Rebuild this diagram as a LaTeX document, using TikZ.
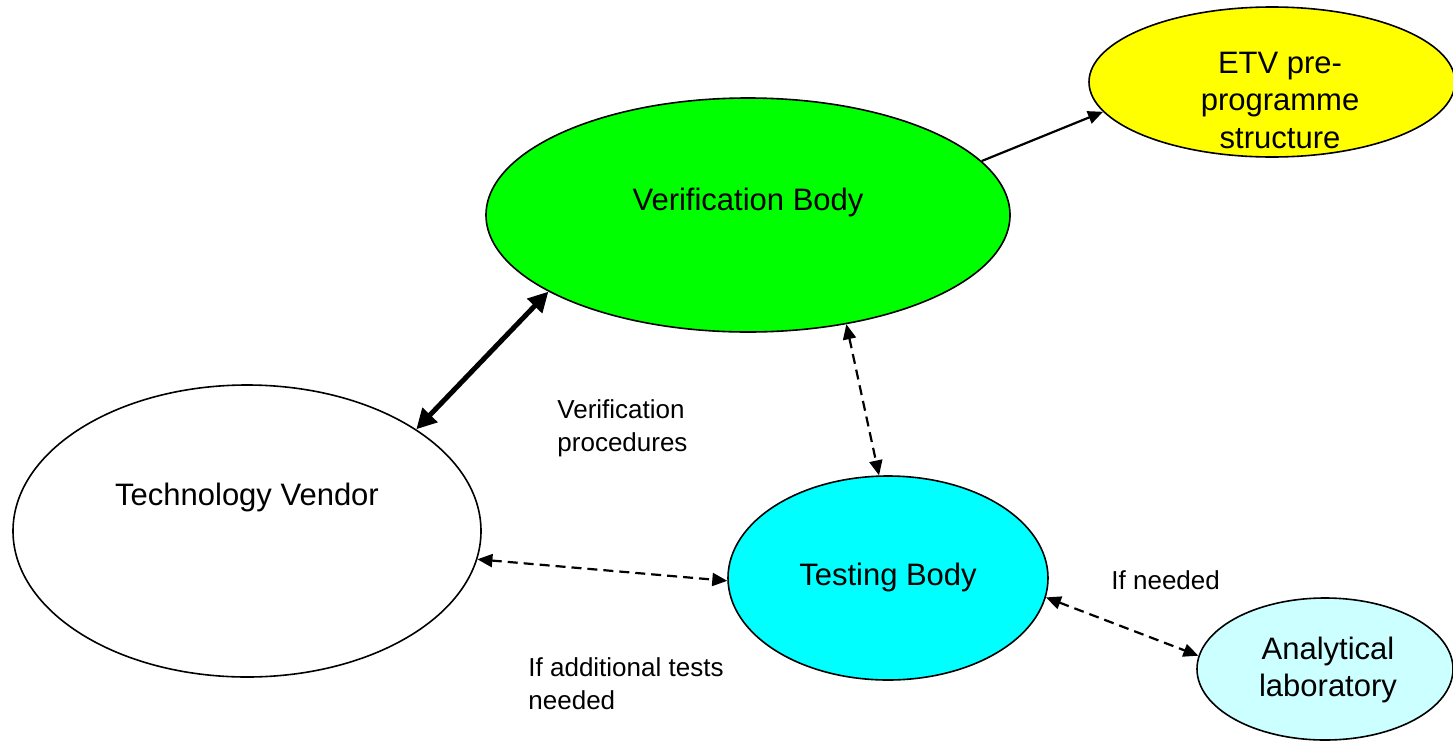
\documentclass[tikz,border=0pt]{standalone}
\usepackage{fontspec}
\setmainfont{Liberation Sans}
\usetikzlibrary{positioning, shapes.geometric, arrows.meta}
\definecolor{vbgreen}{RGB}{0,255,0}
\definecolor{etvyellow}{RGB}{255,255,0}
\definecolor{tbcyan}{RGB}{0,255,255}
\definecolor{labcyan}{RGB}{204,255,255}

\begin{document}
\begin{tikzpicture}[x=1pt, y=-1pt, >={Triangle[length=15pt,width=13pt]}, line width=2.2pt, every node/.style={align=center, font=\fontsize{31}{37.5}\selectfont}]
    \useasboundingbox (0,0) rectangle (1453,742);

    % the bodies
    \node (vb) [draw, ellipse, fill=vbgreen, line width=1.6pt, inner sep=0pt, minimum width=524pt, minimum height=234pt] at (748,215) {};
    \node (vb_txt) at (748,202) {Verification Body};

    \node (etv) [draw, ellipse, fill=etvyellow, line width=1.6pt, inner sep=0pt, minimum width=366pt, minimum height=150pt] at (1272,82) {};
    \node (etv_txt) at (1280,100) {ETV pre-\\programme\\structure};

    \node (tv) [draw, ellipse, fill=white, line width=1.6pt, inner sep=0pt, minimum width=468pt, minimum height=292pt] at (247,531) {};
    \node (tv_txt) at (247,497) {Technology Vendor};

    \node (tb) [draw, ellipse, fill=tbcyan, line width=1.6pt, inner sep=0pt, minimum width=320pt, minimum height=204pt] at (888,578) {};
    \node (tb_txt) at (888,577) {Testing Body};

    \node (lab) [draw, ellipse, fill=labcyan, line width=1.6pt, inner sep=0pt, minimum width=256pt, minimum height=142pt] at (1325,669) {};
    \node (lab_txt) at (1328,670) {Analytical\\laboratory};

    % notes on the links
    \node (proc_note) [anchor=west, align=left, font=\fontsize{26}{33}\selectfont] at (553,428) {Verification\\procedures};
    \node (need_note) [anchor=west, align=left, font=\fontsize{26}{33}\selectfont] at (1107,580) {If needed};
    \node (tests_note) [anchor=west, align=left, font=\fontsize{26}{33}\selectfont] at (524,684) {If additional tests\\needed};

    % links
    \draw[->] (vb.13.3) -- (etv.190.9);
    \draw[<->, line width=5pt, >={Triangle[length=20pt,width=20pt]}] (tv.31.5) -- (vb.201.6);
    \draw[<->, dash pattern=on 10pt off 6pt] (vb.-48) -- (tb.95.3);
    \draw[<->, dash pattern=on 10pt off 6pt] (tv.-7.6) -- (tb.181.4);
    \draw[<->, dash pattern=on 10pt off 6pt] (tb.-7.5) -- (lab.174.7);
\end{tikzpicture}
\end{document}
